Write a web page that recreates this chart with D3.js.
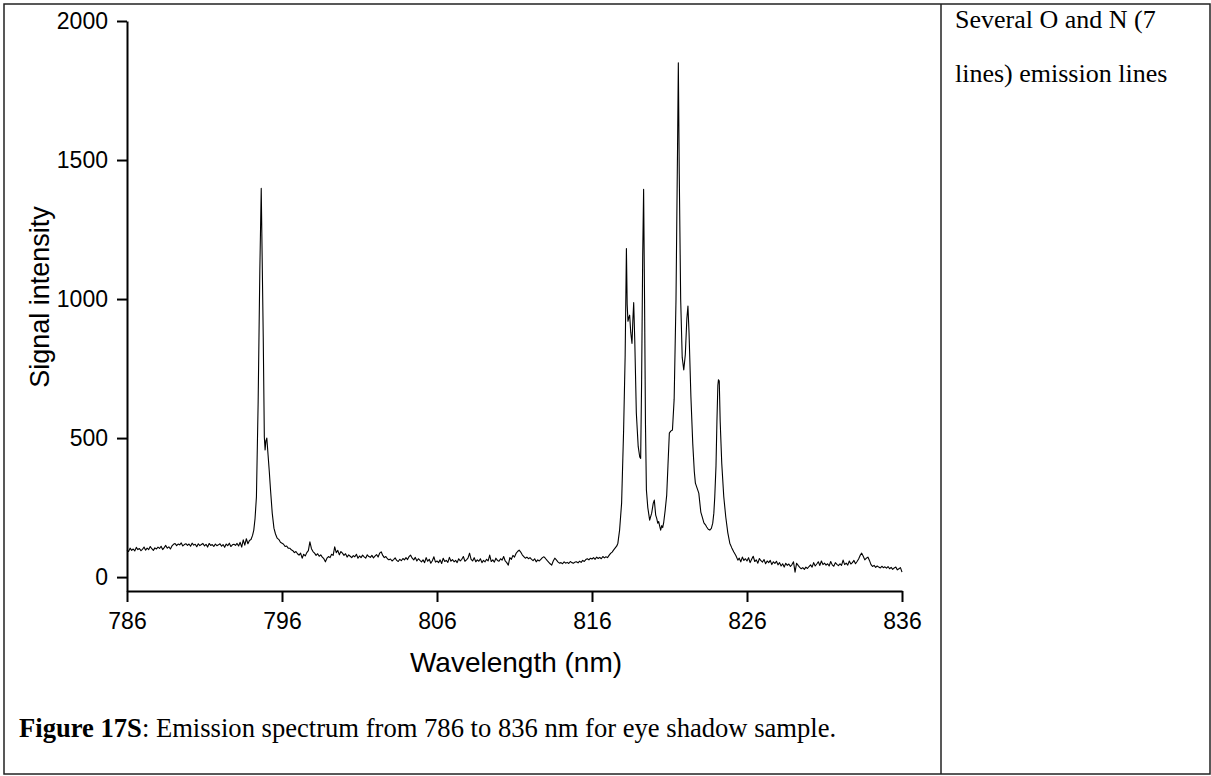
<!DOCTYPE html>
<html>
<head>
<meta charset="utf-8">
<script src="https://cdn.jsdelivr.net/npm/d3@7"></script>
<style>
  html, body { margin: 0; padding: 0; background: #fff; }
  svg { display: block; }
</style>
</head>
<body>
<svg id="chart" width="1211" height="776"></svg>
<script>
// Baseline noise, one value every 0.1 nm
var leftStart = 786.0;
var leftNoise = [
    98, 92, 104, 96, 101, 94, 107, 99, 103, 95,
    100, 108, 97, 104, 99, 110, 102, 96, 105, 101,
    108, 103, 111, 99, 106, 114, 104, 109, 101, 112,
    118, 121, 113, 119, 116, 123, 112, 117, 120, 114,
    119, 111, 122, 115, 118, 109, 120, 113, 117, 121,
    112, 118, 108, 121, 114, 117, 110, 119, 113, 116,
    120, 111, 117, 107, 119, 113, 122, 110, 116, 118,
    114, 121, 112, 125, 108, 134, 115, 138, 120, 132
];

// O I line near 794.7 nm with its shoulder  [nm, intensity]
var peak795 = [
    [794.0, 135], [794.1, 150], [794.18, 169], [794.26, 210], [794.35, 288],
    [794.46, 626], [794.57, 1104], [794.66, 1398], [794.72, 1150], [794.79, 863],
    [794.86, 504], [794.91, 457], [794.96, 490], [795.02, 500], [795.1, 440],
    [795.18, 380], [795.26, 313], [795.37, 230], [795.48, 176], [795.58, 155],
    [795.69, 140], [795.8, 135], [795.9, 125], [796.0, 122], [796.1, 118],
    [796.2, 110], [796.3, 112], [796.4, 104]
];

var midStart = 796.5;
var midNoise = [
    104, 98, 95, 88, 92,
    84, 79, 86, 68, 82, 76, 88, 95, 127, 102,
    92, 86, 78, 84, 75, 80, 72, 66, 55, 68,
    74, 70, 82, 78, 109, 88, 96, 80, 92, 86,
    78, 84, 72, 80, 75, 70, 77, 73, 82, 68,
    76, 70, 79, 73, 68, 80, 74, 71, 78, 69,
    75, 81, 72, 86, 91, 78, 70, 74, 66, 62,
    65, 58, 63, 69, 60, 56, 64, 59, 67, 62,
    70, 63, 74, 79, 68, 62, 71, 58, 66, 60,
    55, 62, 52, 70, 57, 64, 50, 59, 73, 54,
    58, 52, 62, 49, 68, 56, 60, 53, 71, 57,
    63, 55, 60, 52, 66, 58, 64, 74, 57, 62,
    68, 86, 64, 58, 70, 55, 62, 57, 66, 52,
    60, 55, 64, 58, 79, 56, 62, 54, 68, 60,
    57, 66, 61, 74, 58, 52, 43, 70, 64, 78,
    72, 85, 92, 97, 90, 80, 74, 68, 72, 66,
    70, 64, 59, 66, 55, 62, 58, 64, 70, 73,
    67, 60, 54, 48, 43, 58, 68, 62, 55, 50,
    52, 48, 55, 50, 53, 49, 56, 52, 50, 54,
    55, 51, 57, 53, 60, 56, 63, 66, 62, 68,
    65, 70, 64, 72, 67, 71, 66, 74, 69, 73,
    70, 78, 85, 90, 98
];

// O and N lines between 817.5 and 825.4 nm  [nm, intensity]
var cluster = [
    [817.5, 105], [817.6, 112], [817.67, 122], [817.78, 169], [817.91, 266],
    [818.04, 529], [818.14, 800], [818.22, 1182], [818.27, 980], [818.32, 920],
    [818.38, 935], [818.43, 942], [818.5, 880], [818.58, 840], [818.64, 930],
    [818.69, 987], [818.76, 850], [818.86, 590], [818.98, 470], [819.08, 432],
    [819.14, 427], [819.2, 700], [819.27, 1150], [819.33, 1395], [819.39, 1000],
    [819.45, 550], [819.51, 313], [819.6, 250], [819.72, 205], [819.85, 230],
    [819.95, 265], [820.02, 277], [820.08, 240], [820.11, 223], [820.18, 210],
    [820.24, 194], [820.3, 200], [820.36, 185], [820.43, 169], [820.5, 185],
    [820.56, 178], [820.63, 198], [820.72, 240], [820.82, 295], [820.9, 400],
    [820.99, 518], [821.08, 525], [821.19, 529], [821.3, 640], [821.42, 1000],
    [821.52, 1550], [821.57, 1850], [821.63, 1450], [821.72, 1000], [821.82, 790],
    [821.92, 745], [822.02, 800], [822.12, 930], [822.19, 975], [822.26, 880],
    [822.38, 650], [822.5, 480], [822.6, 380], [822.67, 338], [822.78, 320],
    [822.89, 302], [823.02, 234], [823.12, 215], [823.22, 195], [823.32, 188],
    [823.4, 180], [823.5, 172], [823.6, 169], [823.7, 175], [823.79, 194],
    [823.86, 230], [823.92, 288], [824.0, 400], [824.06, 560], [824.12, 690],
    [824.16, 710], [824.21, 705], [824.27, 560], [824.37, 410], [824.5, 290],
    [824.63, 216], [824.76, 160], [824.89, 122], [825.02, 105], [825.15, 90],
    [825.28, 78], [825.41, 61]
];

var rightStart = 825.5;
var rightNoise = [
    68, 55, 72, 60, 66,
    58, 70, 52, 64, 75, 56, 62, 50, 67, 59,
    54, 63, 48, 58, 52, 60, 45, 55, 49, 57,
    44, 52, 40, 48, 36, 50, 42, 47, 38, 45,
    55, 18, 50, 42, 35, 30, 34, 28, 36, 31,
    38, 44, 36, 52, 40, 47, 55, 42, 58, 45,
    50, 43, 48, 40, 56, 44, 39, 52, 46, 41,
    48, 42, 61, 45, 50, 43, 58, 47, 52, 60,
    48, 56, 65, 78, 86, 75, 62, 68, 72, 60,
    45, 38, 42, 35, 40, 36, 33, 39, 34, 37,
    32, 38, 30, 35, 28, 33, 36, 26, 30, 34,
    18
];

var xTicks = [786, 796, 806, 816, 826, 836];
var yTicks = [0, 500, 1000, 1500, 2000];

var xTitle = "Wavelength (nm)";
var yTitle = "Signal intensity";
var captionBold = "Figure 17S";
var captionRest = ": Emission spectrum from 786 to 836 nm for eye shadow sample.";
var sideLines = ["Several O and N (7", "lines) emission lines"];

// stitch the pieces into one series
function gridded(start, vals) {
    return vals.map(function (v, i) { return [+(start + i * 0.1).toFixed(2), v]; });
}
var spectrum = []
    .concat(gridded(leftStart, leftNoise))
    .concat(peak795)
    .concat(gridded(midStart, midNoise))
    .concat(cluster)
    .concat(gridded(rightStart, rightNoise));

var svg = d3.select("#chart");
var axisFont = "'Liberation Sans', Arial, sans-serif";
var textFont = "'Liberation Serif', 'Times New Roman', serif";

// table frame around the figure
svg.append("rect")
    .attr("x", 4).attr("y", 4)
    .attr("width", 1206).attr("height", 770)
    .attr("fill", "none").attr("stroke", "#222").attr("stroke-width", 1.5);
svg.append("line")
    .attr("x1", 941).attr("x2", 941).attr("y1", 4).attr("y2", 774)
    .attr("stroke", "#222").attr("stroke-width", 1.5);

var x = d3.scaleLinear().domain([786, 836]).range([127, 902]);
var y = d3.scaleLinear().domain([-50, 2000]).range([591, 21]);

var yAxis = svg.append("g")
    .attr("transform", "translate(127,0)")
    .call(d3.axisLeft(y).tickValues(yTicks).tickFormat(d3.format("d"))
        .tickSize(10).tickSizeOuter(0).tickPadding(9));

var xAxis = svg.append("g")
    .attr("transform", "translate(0,591)")
    .call(d3.axisBottom(x).tickValues(xTicks).tickFormat(d3.format("d"))
        .tickSize(11).tickSizeOuter(0).tickPadding(11));

[xAxis, yAxis].forEach(function (g) {
    g.selectAll("path, line").attr("stroke", "#000").attr("stroke-width", 2);
    g.selectAll("text")
        .attr("fill", "#000")
        .style("font-family", axisFont)
        .style("font-size", "23px");
});

var line = d3.line()
    .x(function (d) { return x(d[0]); })
    .y(function (d) { return y(d[1]); });

svg.append("path")
    .datum(spectrum)
    .attr("d", line)
    .attr("fill", "none")
    .attr("stroke", "#000")
    .attr("stroke-width", 1.1)
    .attr("stroke-linejoin", "round");

svg.append("text")
    .attr("x", 516).attr("y", 672)
    .attr("text-anchor", "middle")
    .style("font-family", axisFont).style("font-size", "28px")
    .text(xTitle);

svg.append("text")
    .attr("transform", "translate(49,297) rotate(-90)")
    .attr("text-anchor", "middle")
    .style("font-family", axisFont).style("font-size", "27px")
    .text(yTitle);

var cap = svg.append("text")
    .attr("x", 19).attr("y", 737)
    .style("font-family", textFont).style("font-size", "26.6px");
cap.append("tspan").attr("font-weight", "bold").text(captionBold);
cap.append("tspan").text(captionRest);

svg.selectAll("text.side")
    .data(sideLines)
    .enter()
    .append("text")
    .attr("class", "side")
    .attr("x", 955)
    .attr("y", function (d, i) { return 28 + i * 54; })
    .style("font-family", textFont).style("font-size", "26px")
    .text(function (d) { return d; });
</script>
</body>
</html>
